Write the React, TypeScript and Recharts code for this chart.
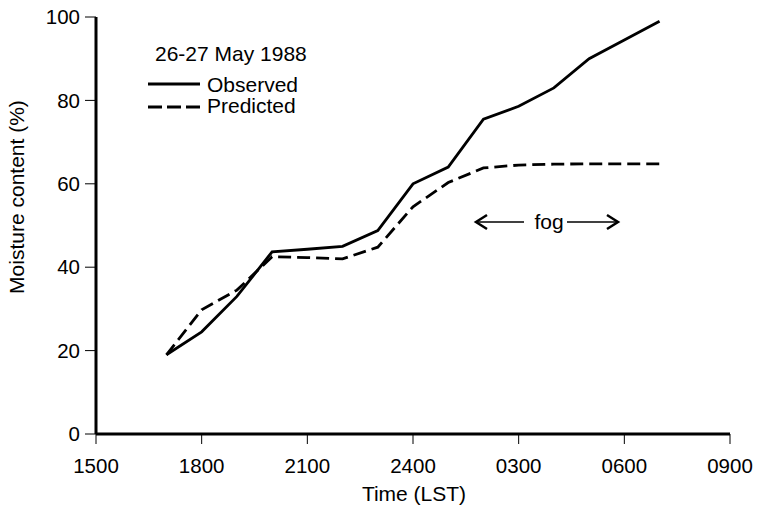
import React from 'react';
import { LineChart, Line, XAxis, YAxis } from 'recharts';

const hours = [17, 18, 19, 20, 21, 22, 23, 24, 25, 26, 27, 28, 29, 30, 31];
const observed = [19, 24.5, 33, 43.7, 44.3, 45, 48.8, 60, 64, 75.5, 78.6, 83, 90, 94.5, 99];
const predicted = [19, 29.8, 34.5, 42.5, 42.3, 42, 44.8, 54.5, 60.3, 63.8, 64.5, 64.7, 64.8, 64.8, 64.8];
const xTicks = [15, 18, 21, 24, 27, 30, 33];
const xTickLabels = ['1500', '1800', '2100', '2400', '0300', '0600', '0900'];
const yTicks = [0, 20, 40, 60, 80, 100];

const data = hours.map((h, i) => ({ h, observed: observed[i], predicted: predicted[i] }));

const FONT = '"Liberation Sans", Arial, Helvetica, sans-serif';

export default function App() {
  return (
    <div style={{ position: 'absolute', left: 0, top: 0, width: 763, height: 510, background: '#fff' }}>
      <LineChart width={763} height={510} data={data} margin={{ top: 17, right: 33, bottom: 0, left: 0 }}>
        <XAxis
          type="number"
          dataKey="h"
          domain={[15, 33]}
          ticks={xTicks}
          tickFormatter={(v: number) => xTickLabels[xTicks.indexOf(v)]}
          height={76}
          axisLine={{ stroke: '#000', strokeWidth: 3 }}
          tickLine={{ stroke: '#000', strokeWidth: 1 }}
          tickSize={10}
          tickMargin={14}
          tick={{ fill: '#000', fontSize: 20.5, fontFamily: FONT }}
        />
        <YAxis
          type="number"
          domain={[0, 100]}
          ticks={yTicks}
          width={96}
          axisLine={{ stroke: '#000', strokeWidth: 3 }}
          tickLine={{ stroke: '#000', strokeWidth: 1 }}
          tickSize={11}
          tickMargin={5}
          tick={{ fill: '#000', fontSize: 20.5, fontFamily: FONT }}
        />
        <Line
          type="linear"
          dataKey="predicted"
          stroke="#000"
          strokeWidth={2.8}
          strokeDasharray="13 6"
          dot={false}
          isAnimationActive={false}
        />
        <Line
          type="linear"
          dataKey="observed"
          stroke="#000"
          strokeWidth={2.8}
          dot={false}
          isAnimationActive={false}
        />
      </LineChart>
      <svg
        width={763}
        height={510}
        style={{ position: 'absolute', left: 0, top: 0, pointerEvents: 'none' }}
        fontFamily={FONT}
      >
        <text x={155} y={61} fontSize={21} fill="#000">26-27 May 1988</text>
        <line x1={148} y1={84} x2={200} y2={84} stroke="#000" strokeWidth={2.8} />
        <text x={207} y={92} fontSize={21} fill="#000">Observed</text>
        <line x1={148} y1={107} x2={200} y2={107} stroke="#000" strokeWidth={2.8} strokeDasharray="14 5" />
        <text x={207} y={113} fontSize={21} fill="#000">Predicted</text>

        <line x1={476} y1={222} x2={524} y2={222} stroke="#000" strokeWidth={1.5} />
        <polyline points="487,215 476,222 487,229" fill="none" stroke="#000" strokeWidth={2.5} />
        <text x={549} y={229} fontSize={21} fill="#000" textAnchor="middle">fog</text>
        <line x1={567} y1={222} x2={617} y2={222} stroke="#000" strokeWidth={1.5} />
        <polyline points="607,215 618,222 607,229" fill="none" stroke="#000" strokeWidth={2.5} />

        <text x={414} y={501} fontSize={21} fill="#000" textAnchor="middle">Time (LST)</text>
        <text
          x={0}
          y={0}
          fontSize={21}
          fill="#000"
          textAnchor="middle"
          transform="translate(24,197) rotate(-90)"
        >
          Moisture content (%)
        </text>
      </svg>
    </div>
  );
}
